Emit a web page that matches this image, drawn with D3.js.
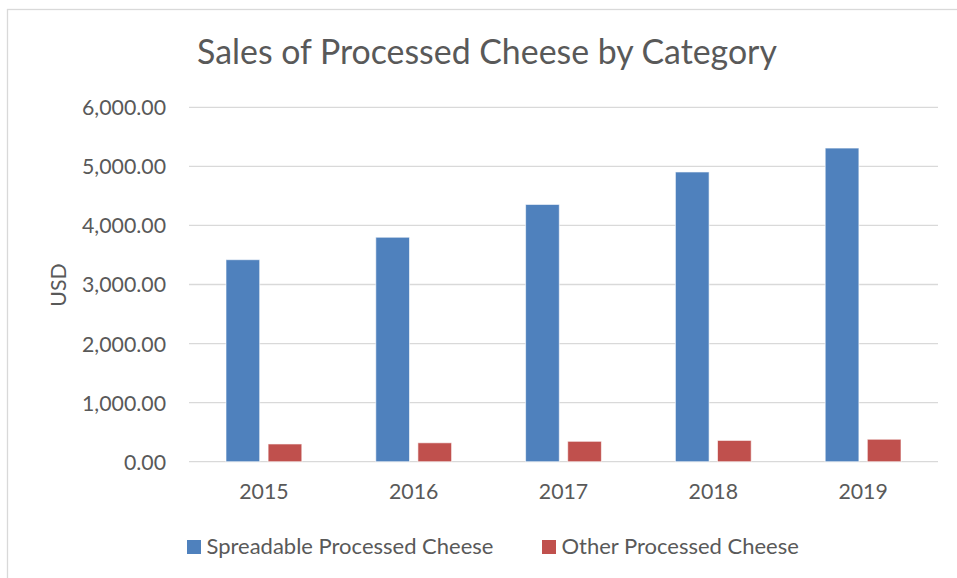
<!DOCTYPE html>
<html>
<head>
<meta charset="utf-8">
<script src="https://cdn.jsdelivr.net/npm/d3@7"></script>
<style>
  html, body { margin: 0; padding: 0; background: #fff; }
  svg { display: block; font-family: Lato, "Open Sans", sans-serif; }
</style>
</head>
<body>
<div id="chart"></div>
<script>
const years = ["2015", "2016", "2017", "2018", "2019"];
const seriesNames = ["Spreadable Processed Cheese", "Other Processed Cheese"];
const spreadable = [3420, 3800, 4355, 4905, 5310];
const other = [300, 320, 345, 360, 380];
const yTicks = [0, 1000, 2000, 3000, 4000, 5000, 6000];

const BLUE = "#4f81bd";
const RED = "#c0504d";
const GREY_TEXT = "#595959";
const GRID = "#d9d9d9";

const W = 957, H = 578;

let svg = d3.select("#chart").append("svg")
    .attr("width", W)
    .attr("height", H);

// outer chart frame (runs off the right / bottom edge)
svg.append("rect")
    .attr("x", 7.5).attr("y", 9.5)
    .attr("width", 1200).attr("height", 1200)
    .attr("fill", "none")
    .attr("stroke", GRID)
    .attr("stroke-width", 1.3);

// scale a text element's font so its width hits a target
function fitSize(text, target) {
    let t = svg.append("text").style("font-size", "100px").text(text);
    let w = t.node().getComputedTextLength();
    t.remove();
    return 100 * target / w;
}

let axisSize = fitSize("6,000.00", 84);
let legendSize = fitSize("Spreadable Processed Cheese", 287);
let titleSize = fitSize("Sales of Processed Cheese by Category", 580);

let x = d3.scaleBand()
    .domain(years)
    .range([189, 938]);

let x1 = d3.scaleBand()
    .domain(seriesNames)
    .range([x.bandwidth() * 0.247, x.bandwidth() * 0.753])
    .paddingInner(0.2);

let y = d3.scaleLinear()
    .domain([0, 6000])
    .range([461.7, 107.3]);

let color = d3.scaleOrdinal().domain(seriesNames).range([BLUE, RED]);

// gridlines
svg.append("g")
    .selectAll("line")
    .data(yTicks)
    .join("line")
    .attr("x1", 189)
    .attr("x2", 938)
    .attr("y1", d => y(d))
    .attr("y2", d => y(d))
    .attr("stroke", GRID)
    .attr("stroke-width", 1.3);

// y axis labels
let yAxis = svg.append("g")
    .attr("transform", "translate(166,0)")
    .call(d3.axisLeft(y).tickValues(yTicks).tickSize(0).tickPadding(0)
        .tickFormat(d3.format(",.2f")));
yAxis.select(".domain").remove();
yAxis.selectAll("text")
    .attr("fill", GREY_TEXT)
    .attr("dy", "0.35em")
    .style("font-family", "Lato, 'Open Sans', sans-serif")
    .style("font-size", axisSize + "px");

// x axis labels
let xAxis = svg.append("g")
    .attr("transform", "translate(0,484)")
    .call(d3.axisBottom(x).tickSize(0).tickPadding(0));
xAxis.select(".domain").remove();
xAxis.selectAll("text")
    .attr("fill", GREY_TEXT)
    .attr("dy", "0.71em")
    .style("font-family", "Lato, 'Open Sans', sans-serif")
    .style("font-size", axisSize + "px");

// bars
let rows = years.map((yr, i) => ({ year: yr, values: [spreadable[i], other[i]] }));

svg.append("g")
    .selectAll("g")
    .data(rows)
    .join("g")
    .attr("transform", d => `translate(${x(d.year)},0)`)
    .selectAll("rect")
    .data(d => seriesNames.map((s, j) => ({ key: s, value: d.values[j] })))
    .join("rect")
    .attr("x", d => x1(d.key))
    .attr("width", x1.bandwidth())
    .attr("y", d => y(d.value))
    .attr("height", d => y(0) - y(d.value))
    .attr("fill", d => color(d.key))
    .attr("stroke", "#fff")
    .attr("stroke-opacity", 0.6)
    .attr("stroke-width", 1);

// title
svg.append("text")
    .attr("x", 487)
    .attr("y", 63.5)
    .attr("text-anchor", "middle")
    .attr("fill", GREY_TEXT)
    .style("font-size", titleSize + "px")
    .text("Sales of Processed Cheese by Category");

// y axis title
svg.append("text")
    .attr("transform", "translate(66,285) rotate(-90)")
    .attr("text-anchor", "middle")
    .attr("fill", GREY_TEXT)
    .style("font-size", axisSize + "px")
    .text("USD");

// legend
let legendX = [187, 542];
let legend = svg.append("g")
    .selectAll("g")
    .data(seriesNames)
    .join("g")
    .attr("transform", (d, i) => `translate(${legendX[i]},540)`);
legend.append("rect")
    .attr("width", 14)
    .attr("height", 14)
    .attr("fill", d => color(d));
legend.append("text")
    .attr("x", 19.5)
    .attr("y", 14.3)
    .attr("fill", GREY_TEXT)
    .style("font-size", legendSize + "px")
    .text(d => d);
</script>
</body>
</html>
